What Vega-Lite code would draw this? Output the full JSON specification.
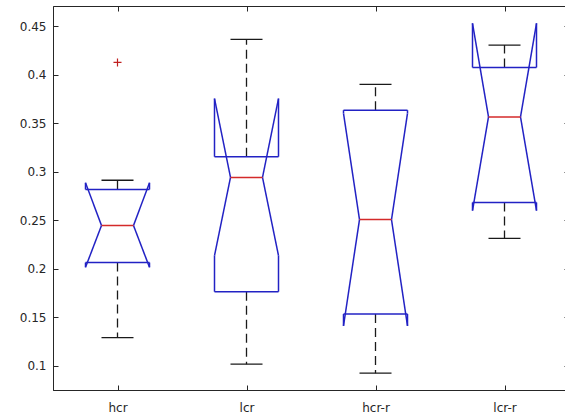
{
  "$schema": "https://vega.github.io/schema/vega-lite/v6.json",
  "width": 516,
  "height": 384,
  "autosize": {"type": "none"},
  "padding": {"left": 53, "top": 6, "right": 0, "bottom": 26},
  "background": "white",
  "config": {
    "view": {"stroke": "#262626", "strokeWidth": 1},
    "axis": {
      "labelFont": "DejaVu Sans",
      "labelFontSize": 12,
      "labelColor": "#262626",
      "domainColor": "#262626",
      "tickColor": "#262626",
      "grid": false,
      "tickSize": -5,
      "titleOpacity": 0
    }
  },
  "data": {
    "values": [
      {"g": "hcr", "lo": 0.1292, "q1": 0.2064, "nlo": 0.2015, "med": 0.2445, "nhi": 0.2886, "q3": 0.2817, "hi": 0.2912},
      {"g": "lcr", "lo": 0.1018, "q1": 0.1764, "nlo": 0.2136, "med": 0.2941, "nhi": 0.3753, "q3": 0.3154, "hi": 0.4362},
      {"g": "hcr-r", "lo": 0.0925, "q1": 0.1534, "nlo": 0.1413, "med": 0.2507, "nhi": 0.3601, "q3": 0.3633, "hi": 0.3898},
      {"g": "lcr-r", "lo": 0.2314, "q1": 0.2683, "nlo": 0.2600, "med": 0.3564, "nhi": 0.4528, "q3": 0.4073, "hi": 0.4304}
    ]
  },
  "encoding": {
    "x": {"field": "g", "type": "nominal", "title": null, "axis": null,
          "scale": {"type": "point", "domain": ["hcr", "lcr", "hcr-r", "lcr-r"], "padding": 0.5}}
  },
  "resolve": {"axis": {"x": "independent", "y": "independent"}},
  "layer": [
    {
      "mark": {"type": "rule", "color": "#1a1a1a", "strokeWidth": 1.3, "strokeDash": [9, 5]},
      "encoding": {
        "x": {"field": "g", "type": "nominal", "title": null,
              "scale": {"type": "point", "domain": ["hcr", "lcr", "hcr-r", "lcr-r"], "padding": 0.5},
              "axis": {"orient": "bottom", "labelPadding": 17, "labelAngle": 0}},
        "y": {"field": "q3", "type": "quantitative", "title": null,
              "scale": {"domain": [0.0752, 0.4706], "nice": false, "zero": false},
              "axis": {"orient": "left", "values": [0.1, 0.15, 0.2, 0.25, 0.3, 0.35, 0.4, 0.45], "format": "~g", "labelPadding": 12}},
        "y2": {"field": "hi"}
      }
    },
    {
      "mark": {"type": "rule", "opacity": 0},
      "encoding": {
        "x": {"field": "g", "type": "nominal", "title": null,
              "scale": {"type": "point", "domain": ["hcr", "lcr", "hcr-r", "lcr-r"], "padding": 0.5},
              "axis": {"orient": "top", "labels": false, "domain": false}},
        "y": {"field": "med", "type": "quantitative", "title": null,
              "axis": {"orient": "right", "labels": false, "domain": false, "values": [0.1, 0.15, 0.2, 0.25, 0.3, 0.35, 0.4, 0.45]}}
      }
    },
    {
      "mark": {"type": "rule", "color": "#1a1a1a", "strokeWidth": 1.3, "strokeDash": [9, 5]},
      "encoding": {"y": {"field": "q1", "type": "quantitative", "axis": null}, "y2": {"field": "lo"}}
    },
    {
      "mark": {"type": "rule", "color": "#1a1a1a", "strokeWidth": 1.3, "xOffset": -16, "x2Offset": 16},
      "encoding": {"x2": {"field": "g"}, "y": {"field": "hi", "type": "quantitative", "axis": null}}
    },
    {
      "mark": {"type": "rule", "color": "#1a1a1a", "strokeWidth": 1.3, "xOffset": -16, "x2Offset": 16},
      "encoding": {"x2": {"field": "g"}, "y": {"field": "lo", "type": "quantitative", "axis": null}}
    },
    {
      "mark": {"type": "rule", "color": "#2222c4", "strokeWidth": 1.5, "xOffset": -32},
      "encoding": {"y": {"field": "q1", "type": "quantitative", "axis": null}, "y2": {"field": "nlo"}}
    },
    {
      "mark": {"type": "rule", "color": "#2222c4", "strokeWidth": 1.5, "xOffset": 32},
      "encoding": {"y": {"field": "q1", "type": "quantitative", "axis": null}, "y2": {"field": "nlo"}}
    },
    {
      "mark": {"type": "rule", "color": "#2222c4", "strokeWidth": 1.5, "xOffset": -32},
      "encoding": {"y": {"field": "nhi", "type": "quantitative", "axis": null}, "y2": {"field": "q3"}}
    },
    {
      "mark": {"type": "rule", "color": "#2222c4", "strokeWidth": 1.5, "xOffset": 32},
      "encoding": {"y": {"field": "nhi", "type": "quantitative", "axis": null}, "y2": {"field": "q3"}}
    },
    {
      "mark": {"type": "rule", "color": "#2222c4", "strokeWidth": 1.5, "xOffset": -32, "x2Offset": -16},
      "encoding": {"x2": {"field": "g"}, "y": {"field": "nlo", "type": "quantitative", "axis": null}, "y2": {"field": "med"}}
    },
    {
      "mark": {"type": "rule", "color": "#2222c4", "strokeWidth": 1.5, "xOffset": -32, "x2Offset": -16},
      "encoding": {"x2": {"field": "g"}, "y": {"field": "nhi", "type": "quantitative", "axis": null}, "y2": {"field": "med"}}
    },
    {
      "mark": {"type": "rule", "color": "#2222c4", "strokeWidth": 1.5, "xOffset": 32, "x2Offset": 16},
      "encoding": {"x2": {"field": "g"}, "y": {"field": "nlo", "type": "quantitative", "axis": null}, "y2": {"field": "med"}}
    },
    {
      "mark": {"type": "rule", "color": "#2222c4", "strokeWidth": 1.5, "xOffset": 32, "x2Offset": 16},
      "encoding": {"x2": {"field": "g"}, "y": {"field": "nhi", "type": "quantitative", "axis": null}, "y2": {"field": "med"}}
    },
    {
      "mark": {"type": "rule", "color": "#2222c4", "strokeWidth": 1.5, "xOffset": -32, "x2Offset": 32},
      "encoding": {"x2": {"field": "g"}, "y": {"field": "q3", "type": "quantitative", "axis": null}}
    },
    {
      "mark": {"type": "rule", "color": "#2222c4", "strokeWidth": 1.5, "xOffset": -32, "x2Offset": 32},
      "encoding": {"x2": {"field": "g"}, "y": {"field": "q1", "type": "quantitative", "axis": null}}
    },
    {
      "mark": {"type": "rule", "color": "#d42a2a", "strokeWidth": 1.5, "xOffset": -16, "x2Offset": 16},
      "encoding": {"x2": {"field": "g"}, "y": {"field": "med", "type": "quantitative", "axis": null}}
    },
    {
      "data": {"values": [{"g": "hcr", "v": 0.4125}]},
      "mark": {"type": "point", "shape": "M-1,0L1,0M0,-1L0,1", "size": 64, "filled": false, "color": "#c02020", "strokeWidth": 1.2, "opacity": 1},
      "encoding": {"y": {"field": "v", "type": "quantitative", "axis": null}}
    }
  ]
}
